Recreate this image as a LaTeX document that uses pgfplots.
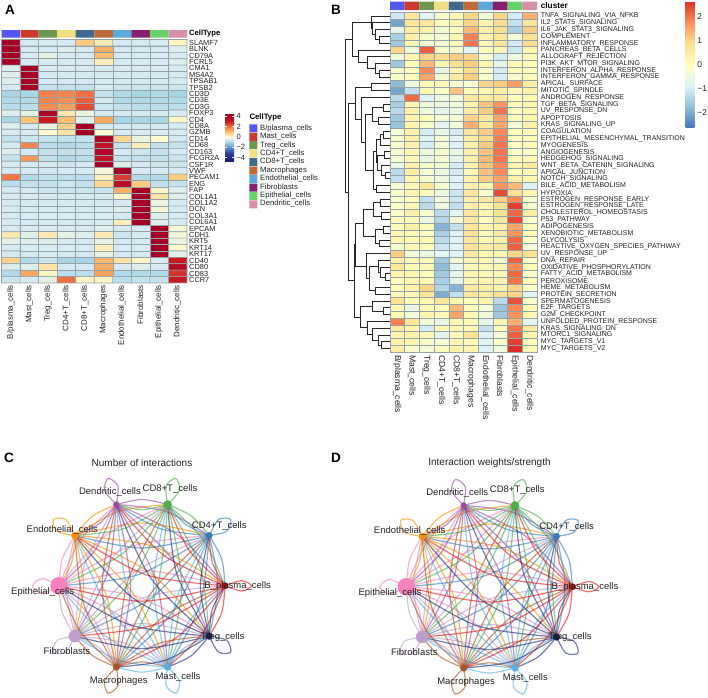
\documentclass[border=0pt]{standalone}
\usepackage{fontspec}
\setmainfont{Liberation Sans}
\usepackage{pgfplots}
\pgfplotsset{compat=1.18}

% annotation and network colours
\definecolor{aBp}{HTML}{5555F0}
\definecolor{aMa}{HTML}{CC3A2E}
\definecolor{aTr}{HTML}{6F9650}
\definecolor{aC4}{HTML}{EFDF80}
\definecolor{aC8}{HTML}{3F6A8E}
\definecolor{aMc}{HTML}{C06A3A}
\definecolor{aEn}{HTML}{5AAADC}
\definecolor{aFi}{HTML}{861F6D}
\definecolor{aEp}{HTML}{66D36A}
\definecolor{aDe}{HTML}{D68FA8}
\definecolor{nBp}{HTML}{E41A1C}
\definecolor{nC4}{HTML}{377EB8}
\definecolor{nC8}{HTML}{4DAF4A}
\definecolor{nDe}{HTML}{984EA3}
\definecolor{nEn}{HTML}{F29403}
\definecolor{nEp}{HTML}{F781BF}
\definecolor{nFi}{HTML}{BC9DCC}
\definecolor{nMc}{HTML}{A65628}
\definecolor{nMa}{HTML}{54B0E4}
\definecolor{nTr}{HTML}{222F75}
\definecolor{cellline}{HTML}{95A3A7}
\definecolor{txt}{HTML}{222222}

\pgfplotsset{
  px/.style={scale only axis, anchor=south west, at={(0pt,0pt)}, width=708pt, height=697pt,
    xmin=0, xmax=708, ymin=0, ymax=697, y dir=reverse, hide axis, clip=false},
  heat/.style={scale only axis, anchor=north west, xmin=-.5, xmax=9.5, y dir=reverse,
    xtick=\empty, ytick=\empty, axis line style={draw=none}, clip=false},
  net/.style={scale only axis, anchor=center, width=166pt, height=171pt,
    xmin=-1, xmax=1, ymin=-1, ymax=1, hide axis, clip=false, unbounded coords=jump},
  ch/.style={smooth, no markers, line width=1.2pt, opacity=.62, color=#1},
  colormap={hmA}{rgb255(0pt)=(28,28,118); rgb255(9pt)=(35,40,140); rgb255(18pt)=(50,70,170);
    rgb255(28pt)=(95,150,200); rgb255(38pt)=(170,215,232); rgb255(43pt)=(214,235,243);
    rgb255(48pt)=(255,250,205); rgb255(58pt)=(253,190,110); rgb255(68pt)=(240,110,65);
    rgb255(78pt)=(200,25,35); rgb255(88pt)=(165,0,38); rgb255(93pt)=(165,0,38)},
  colormap={hmB}{rgb255(0pt)=(69,117,180); rgb255(1pt)=(145,191,219); rgb255(2pt)=(224,243,248);
    rgb255(3pt)=(255,255,191); rgb255(4pt)=(254,224,144); rgb255(5pt)=(252,141,89);
    rgb255(6pt)=(215,48,39)},
}

\newcommand\netlab[3]{\node[text=txt, font=\fontsize{9.5}{11}\selectfont] at (axis cs:#1,#2) {#3};}

% chords from each source: target, bend point; last curve is the self loop
\newcommand\chords{%
\addplot[ch=nEp] coordinates {(-1,0)(-.846,-.275)(-.809,-.588)(nan,nan)(-1,0)(-.569,-.413)(-.309,-.951)(nan,nan)(-1,0)(-.26,-.358)(.309,-.951)(nan,nan)(-1,0)(-.043,-.131)(.809,-.588)(nan,nan)(-1,0)(0,.18)(1,0)(nan,nan)(-1,0)(-.148,.456)(.809,.588)(nan,nan)(-1,0)(-.432,.594)(.309,.951)(nan,nan)(-1,0)(-.74,.538)(-.309,.951)(nan,nan)(-1,0)(-.961,.312)(-.809,.588)(nan,nan)(-1,0)(-1.2,-.085)(-1.32,0)(-1.2,.085)(-1,0)};
\addplot[ch=nFi] coordinates {(-.809,-.588)(-.523,-.72)(-.309,-.951)(nan,nan)(-.809,-.588)(-.217,-.669)(.309,-.951)(nan,nan)(-.809,-.588)(0,-.442)(.809,-.588)(nan,nan)(-.809,-.588)(.043,-.131)(1,0)(nan,nan)(-.809,-.588)(-.106,.146)(.809,.588)(nan,nan)(-.809,-.588)(-.388,.282)(.309,.951)(nan,nan)(-.809,-.588)(-.698,.227)(-.309,.951)(nan,nan)(-.809,-.588)(-.915,0)(-.809,.588)(nan,nan)(-.809,-.588)(-.961,-.312)(-1,0)(nan,nan)(-.809,-.588)(-.921,-.775)(-1.068,-.776)(-1.021,-.637)(-.809,-.588)};
\addplot[ch=nMa] coordinates {(.309,-.951)(.523,-.72)(.809,-.588)(nan,nan)(.309,-.951)(.569,-.413)(1,0)(nan,nan)(.309,-.951)(.42,-.137)(.809,.588)(nan,nan)(.309,-.951)(.138,0)(.309,.951)(nan,nan)(.309,-.951)(-.171,-.056)(-.309,.951)(nan,nan)(.309,-.951)(-.388,-.282)(-.809,.588)(nan,nan)(.309,-.951)(-.432,-.594)(-1,0)(nan,nan)(.309,-.951)(-.283,-.87)(-.809,-.588)(nan,nan)(.309,-.951)(0,-1.01)(-.309,-.951)(nan,nan)(.309,-.951)(.452,-1.115)(.408,-1.255)(.29,-1.167)(.309,-.951)};
\addplot[ch=nEn] coordinates {(-.809,.588)(-.846,.275)(-1,0)(nan,nan)(-.809,.588)(-.703,0)(-.809,-.588)(nan,nan)(-.809,.588)(-.42,-.137)(-.309,-.951)(nan,nan)(-.809,.588)(-.112,-.081)(.309,-.951)(nan,nan)(-.809,.588)(.106,.146)(.809,-.588)(nan,nan)(-.809,.588)(.148,.456)(1,0)(nan,nan)(-.809,.588)(0,.734)(.809,.588)(nan,nan)(-.809,.588)(-.283,.87)(.309,.951)(nan,nan)(-.809,.588)(-.594,.817)(-.309,.951)(nan,nan)(-.809,.588)(-1.021,.637)(-1.068,.776)(-.921,.775)(-.809,.588)};
\addplot[ch=nDe] coordinates {(-.309,.951)(-.523,.72)(-.809,.588)(nan,nan)(-.309,.951)(-.569,.413)(-1,0)(nan,nan)(-.309,.951)(-.42,.137)(-.809,-.588)(nan,nan)(-.309,.951)(-.138,0)(-.309,-.951)(nan,nan)(-.309,.951)(.171,.056)(.309,-.951)(nan,nan)(-.309,.951)(.388,.282)(.809,-.588)(nan,nan)(-.309,.951)(.432,.594)(1,0)(nan,nan)(-.309,.951)(.283,.87)(.809,.588)(nan,nan)(-.309,.951)(0,1.01)(.309,.951)(nan,nan)(-.309,.951)(-.452,1.115)(-.408,1.255)(-.29,1.167)(-.309,.951)};
\addplot[ch=nC8] coordinates {(.309,.951)(0,.89)(-.309,.951)(nan,nan)(.309,.951)(-.217,.669)(-.809,.588)(nan,nan)(.309,.951)(-.26,.358)(-1,0)(nan,nan)(.309,.951)(-.112,.081)(-.809,-.588)(nan,nan)(.309,.951)(.171,-.056)(-.309,-.951)(nan,nan)(.309,.951)(.48,0)(.309,-.951)(nan,nan)(.309,.951)(.698,.227)(.809,-.588)(nan,nan)(.309,.951)(.74,.538)(1,0)(nan,nan)(.309,.951)(.594,.817)(.809,.588)(nan,nan)(.309,.951)(.29,1.167)(.408,1.255)(.452,1.115)(.309,.951)};
\addplot[ch=nC4] coordinates {(.809,.588)(.523,.72)(.309,.951)(nan,nan)(.809,.588)(.217,.669)(-.309,.951)(nan,nan)(.809,.588)(0,.442)(-.809,.588)(nan,nan)(.809,.588)(-.043,.131)(-1,0)(nan,nan)(.809,.588)(.106,-.146)(-.809,-.588)(nan,nan)(.809,.588)(.388,-.282)(-.309,-.951)(nan,nan)(.809,.588)(.698,-.227)(.309,-.951)(nan,nan)(.809,.588)(.915,0)(.809,-.588)(nan,nan)(.809,.588)(.961,.312)(1,0)(nan,nan)(.809,.588)(.921,.775)(1.068,.776)(1.021,.637)(.809,.588)};
\addplot[ch=nMc] coordinates {(-.309,-.951)(0,-.89)(.309,-.951)(nan,nan)(-.309,-.951)(.217,-.669)(.809,-.588)(nan,nan)(-.309,-.951)(.26,-.358)(1,0)(nan,nan)(-.309,-.951)(.112,-.081)(.809,.588)(nan,nan)(-.309,-.951)(-.171,.056)(.309,.951)(nan,nan)(-.309,-.951)(-.48,0)(-.309,.951)(nan,nan)(-.309,-.951)(-.698,-.227)(-.809,.588)(nan,nan)(-.309,-.951)(-.74,-.538)(-1,0)(nan,nan)(-.309,-.951)(-.594,-.817)(-.809,-.588)(nan,nan)(-.309,-.951)(-.29,-1.167)(-.408,-1.255)(-.452,-1.115)(-.309,-.951)};
\addplot[ch=nBp] coordinates {(1,0)(.846,.275)(.809,.588)(nan,nan)(1,0)(.569,.413)(.309,.951)(nan,nan)(1,0)(.26,.358)(-.309,.951)(nan,nan)(1,0)(.043,.131)(-.809,.588)(nan,nan)(1,0)(0,-.18)(-1,0)(nan,nan)(1,0)(.148,-.456)(-.809,-.588)(nan,nan)(1,0)(.432,-.594)(-.309,-.951)(nan,nan)(1,0)(.74,-.538)(.309,-.951)(nan,nan)(1,0)(.961,-.312)(.809,-.588)(nan,nan)(1,0)(1.2,.06)(1.32,0)(1.2,-.06)(1,0)};
\addplot[ch=nTr] coordinates {(.809,-.588)(.846,-.275)(1,0)(nan,nan)(.809,-.588)(.703,0)(.809,.588)(nan,nan)(.809,-.588)(.42,.137)(.309,.951)(nan,nan)(.809,-.588)(.112,.081)(-.309,.951)(nan,nan)(.809,-.588)(-.106,-.146)(-.809,.588)(nan,nan)(.809,-.588)(-.148,-.456)(-1,0)(nan,nan)(.809,-.588)(0,-.734)(-.809,-.588)(nan,nan)(.809,-.588)(.283,-.87)(-.309,-.951)(nan,nan)(.809,-.588)(.594,-.817)(.309,-.951)(nan,nan)(.809,-.588)(1.021,-.637)(1.068,-.776)(.921,-.775)(.809,-.588)};
% nodes
\addplot[only marks, mark=*, mark size=3.2, color=nBp!75!black] coordinates {(1,0)};
\addplot[only marks, mark=*, mark size=3.2, color=nC4] coordinates {(.809,.588)};
\addplot[only marks, mark=*, mark size=4, color=nC8] coordinates {(.309,.951)};
\addplot[only marks, mark=*, mark size=2.9, color=nDe] coordinates {(-.309,.951)};
\addplot[only marks, mark=*, mark size=3.4, color=nEn] coordinates {(-.809,.588)};
\addplot[only marks, mark=*, mark size=8.5, color=nEp] coordinates {(-1,0)};
\addplot[only marks, mark=*, mark size=6, color=nFi] coordinates {(-.809,-.588)};
\addplot[only marks, mark=*, mark size=3.3, color=nMc] coordinates {(-.309,-.951)};
\addplot[only marks, mark=*, mark size=3.3, color=nMa] coordinates {(.309,-.951)};
\addplot[only marks, mark=*, mark size=3.4, color=nTr!70!black] coordinates {(.809,-.588)};
}
% labels go in their own axis so that they lie over marks and chords
\newcommand\netlabels{%
\addplot[draw=none, forget plot] coordinates {(0,0)};
\netlab{1.153}{0}{B\_plasma\_cells}
\netlab{.931}{.699}{CD4+T\_cells}
\netlab{.337}{1.132}{CD8+T\_cells}
\netlab{-.386}{1.097}{Dendritic\_cells}
\netlab{-.96}{.653}{Endothelial\_cells}
\netlab{-1.197}{-.069}{Epithelial\_cells}
\netlab{-.904}{-.763}{Fibroblasts}
\netlab{-.28}{-1.114}{Macrophages}
\netlab{.434}{-1.063}{Mast\_cells}
\netlab{.972}{-.594}{Treg\_cells}
}

\begin{document}
\begin{tikzpicture}[x=1pt, y=1pt]
\useasboundingbox (0,0) rectangle (708,697);

% panel A heatmap, columns read row by row
\begin{axis}[heat, at={(1.5pt,657.5pt)}, width=185.5pt, height=243.5pt, ymin=-.5, ymax=37.5,
  colormap name=hmA, point meta min=-4.77, point meta max=4.5,
  colorbar, colorbar style={at={(1.2049,.6969)}, anchor=north west, scale only axis,
    width=9pt, height=48.4pt, ytick={-4,-2,0,2,4}, yticklabels={−4,−2,0,2,4}, yticklabel pos=right,
    tick align=inside, ytick pos=both, major tick length=2pt, tick style={white, line width=.5pt},
    axis line style={draw=none}, yticklabel style={font=\fontsize{7.6}{8}\selectfont, text=txt, xshift=-1pt}}]
\addplot[matrix plot, mesh/cols=10, draw=cellline, line width=.6pt, point meta=\thisrowno{0}]
 table[row sep=\\, header=false, x expr={mod(\coordindex,10)}, y expr={floor((\coordindex+.5)/10)}] {
 4\\-.5\\-.5\\-.5\\.8\\.3\\-.5\\-.5\\-.5\\.1\\
 4\\-.5\\-.5\\-.4\\-.5\\1.2\\-.5\\-.5\\-.5\\-.4\\
 4\\-.5\\-.3\\-.5\\-.5\\1\\-.5\\-.5\\-.5\\-.5\\
 4\\-.5\\-.5\\-.5\\-.5\\.2\\-.5\\-.5\\-.5\\-.4\\
 -.4\\4\\-.5\\-.5\\-.5\\-.5\\-.5\\-.5\\-.5\\-.5\\
 -.4\\4\\-.5\\-.5\\-.5\\-.5\\-.5\\-.5\\-.5\\-.5\\
 -.4\\4\\-.5\\-.5\\-.5\\-.5\\-.5\\-.5\\-.5\\-.5\\
 -.5\\4\\-.7\\-.7\\-.7\\-.5\\-.6\\-.6\\-.6\\-.6\\
 -1\\-1\\1.8\\1.7\\2\\-.7\\-.9\\-1\\-.9\\-1\\
 -.9\\-.9\\1.8\\1.6\\2.2\\-.5\\-.9\\-.9\\-.9\\-.9\\
 -.8\\-.8\\1.6\\1.4\\2.4\\-.6\\-.7\\-.8\\-.8\\-.8\\
 -.4\\-.3\\3.8\\.3\\-.2\\-.5\\-.5\\-.5\\-.5\\-.5\\
 -1\\.9\\3\\1\\-.4\\1.3\\-1\\-1\\-1\\.1\\
 -.4\\-.5\\-.2\\.7\\4\\-.5\\-.5\\-.5\\-.5\\-.5\\
 -.5\\-.5\\0\\.4\\4\\0\\-.5\\-.5\\-.5\\-.5\\
 -.7\\-.6\\-.7\\-.7\\-.7\\3.8\\.6\\-.2\\0\\-.5\\
 -.5\\1.7\\-.8\\-.9\\-.8\\3.2\\-.7\\.2\\-.7\\-.7\\
 -.4\\-.5\\-.7\\-.7\\-.7\\3.7\\-.5\\-.6\\-.7\\-.5\\
 -.7\\1.5\\-.7\\-.9\\-.8\\3.2\\-.7\\-.7\\-.7\\-.6\\
 -.5\\-.5\\-.5\\-.6\\-.5\\3.9\\-.4\\-.5\\-.6\\-.6\\
 -.5\\-.5\\-.6\\-.5\\-.5\\-.1\\4\\-.5\\-.5\\-.5\\
 1.9\\-.9\\-.7\\-.8\\-.8\\.2\\2.6\\-.9\\-.9\\.8\\
 -.8\\-.7\\-.7\\-.6\\-.7\\.6\\3.4\\.8\\-.7\\-.7\\
 -.5\\-.5\\-.6\\-.6\\-.6\\-.6\\1.2\\3.9\\.1\\-.4\\
 -.5\\-.5\\-.5\\-.5\\-.5\\-.5\\0\\4\\.4\\-.4\\
 -.5\\-.5\\-.5\\-.5\\-.5\\-.5\\-.5\\4\\-.2\\-.5\\
 -.5\\-.5\\-.5\\-.5\\-.5\\-.5\\-.4\\4\\-.1\\-.5\\
 -.5\\-.5\\-.5\\-.5\\-.5\\-.5\\-.5\\4\\-.4\\-.5\\
 -.5\\-.5\\-.5\\-.5\\-.5\\-.5\\.2\\4\\-.4\\-.5\\
 -.5\\-.5\\-.5\\-.5\\-.5\\-.4\\-.5\\-.5\\4\\-.1\\
 .3\\-.4\\.3\\-.3\\-.4\\.3\\-.6\\-.5\\4\\-.1\\
 -.3\\-.4\\-.4\\-.5\\-.5\\-.3\\-.5\\-.5\\4\\-.2\\
 -.5\\-.5\\-.5\\-.5\\-.5\\.2\\-.5\\-.5\\4\\0\\
 -.5\\-.5\\-.5\\-.5\\-.5\\-.3\\-.5\\-.5\\4\\-.3\\
 .7\\-.9\\-.6\\-1\\-1\\1.1\\.4\\.1\\-.5\\3\\
 -.4\\-.4\\.4\\-.5\\-.5\\1.2\\-.5\\-.4\\-.5\\3.6\\
 -.9\\1.3\\.1\\-.8\\-.8\\1.4\\-.9\\-.9\\-.9\\2.7\\
 -.6\\-.5\\-.3\\2\\.1\\.1\\-.8\\-.7\\-.7\\3\\
 };
\end{axis}

% panel B heatmap
\begin{axis}[heat, at={(390pt,684.3pt)}, width=147pt, height=339.3pt, ymin=-.5, ymax=49.5,
  colormap name=hmB, point meta min=-2.65, point meta max=2.65,
  colorbar, colorbar style={at={(2.0116,1.0345)}, anchor=north west, scale only axis,
    width=8.6pt, height=127pt, ytick={-2,-1,0,1,2}, yticklabels={−2,−1,0,1,2}, yticklabel pos=right,
    tick style={draw=none}, axis line style={draw=none},
    yticklabel style={font=\fontsize{8.4}{9}\selectfont, text=txt, xshift=-.5pt}}]
\addplot[matrix plot, mesh/cols=10, draw=cellline, line width=.6pt, point meta=\thisrowno{0}]
 table[row sep=\\, header=false, x expr={mod(\coordindex,10)}, y expr={floor((\coordindex+.5)/10)}] {
 -1.1\\.7\\-.8\\-.2\\.2\\1\\-.3\\1\\-1\\1.4\\
 -2.1\\.7\\.7\\.1\\.3\\1\\.3\\.9\\-1.2\\.7\\
 -.7\\.5\\.4\\-.3\\.1\\1.3\\.4\\.9\\-1.5\\1.1\\
 -1.5\\.4\\-.2\\-.3\\.2\\1.9\\.3\\.7\\-.4\\.8\\
 -1.6\\.2\\-.3\\-.3\\.1\\2\\.2\\.7\\-1\\.9\\
 1\\-.5\\2.2\\-.2\\-.2\\-.8\\.1\\.2\\-1.1\\.3\\
 -.4\\.3\\1\\.9\\1.1\\1\\-.3\\-1\\-.5\\.2\\
 -1.6\\.1\\1.3\\.2\\.8\\1.1\\.3\\-.7\\.2\\.1\\
 -.2\\.1\\1.8\\-.6\\.3\\.9\\-.2\\-1\\.1\\.1\\
 -.1\\.1\\1.5\\-.3\\.5\\1.1\\-.2\\-1\\-.2\\.1\\
 -1.8\\-.5\\.2\\.2\\-.2\\-.3\\1\\1.1\\1.6\\.5\\
 -2.1\\-1.2\\.2\\-.1\\1.2\\.1\\.2\\.5\\.2\\.4\\
 -1.3\\2.1\\-.9\\-.5\\-.4\\.6\\.5\\.6\\.1\\.2\\
 -1.5\\.3\\-.5\\-.5\\-.4\\.3\\1.2\\1.7\\.1\\.3\\
 -1.3\\.4\\-.5\\-.7\\-.5\\.5\\1.1\\2\\.1\\.3\\
 -1.6\\.3\\.1\\-.3\\-.3\\1\\.6\\1.5\\.1\\.3\\
 -1.7\\.3\\-.2\\-.7\\-.4\\1.4\\.6\\1.5\\-.3\\.4\\
 -.3\\.4\\-1\\-.6\\-1\\.7\\1.1\\1.8\\.1\\.1\\
 -.2\\.5\\-.9\\-.3\\-.8\\.5\\.9\\1.9\\0\\.1\\
 -.2\\.4\\-1\\-.3\\-.9\\.4\\1.1\\2\\0\\.1\\
 -.3\\.3\\-.5\\-.2\\-.6\\.4\\1.2\\2\\-.1\\-.1\\
 -.3\\.2\\-.6\\-.3\\-.7\\.4\\1.3\\2\\.1\\.2\\
 -.6\\.4\\-.2\\-.3\\-1\\.3\\1.2\\1.8\\.3\\.6\\
 -1.3\\.5\\-.3\\-.5\\-1\\.2\\1.2\\1.8\\.1\\.2\\
 -1.2\\.2\\-.3\\-.5\\-.9\\.4\\1.1\\1.5\\.4\\.3\\
 -.3\\.2\\.7\\-.2\\-.9\\.4\\.3\\1.7\\1.3\\-.9\\
 -.1\\.3\\.1\\-.5\\-1.1\\.7\\-.2\\2.4\\.8\\.2\\
 -.2\\.1\\-1.2\\-.4\\-1.1\\.4\\.6\\1.1\\1.8\\-.2\\
 -.1\\.2\\-1.3\\-.5\\-1.2\\.4\\.2\\.8\\2.5\\-.2\\
 -.1\\.5\\-.3\\-1.3\\-.8\\.7\\.3\\.8\\2.1\\.5\\
 .1\\.2\\-.5\\-1.4\\-.3\\.6\\.1\\.7\\2.4\\-.1\\
 .1\\.5\\.1\\-1.9\\-1.2\\.7\\.3\\.4\\1.5\\.1\\
 .2\\.2\\-.1\\-1.5\\-.9\\.8\\.1\\.6\\1.7\\.1\\
 .3\\.2\\.2\\-1.3\\-.9\\.7\\.2\\.4\\2.1\\-.1\\
 -.2\\.2\\.1\\-1.1\\-.9\\.8\\.5\\.6\\2.2\\-.4\\
 1.1\\-.4\\-.5\\-.8\\-.9\\.5\\.2\\.3\\1\\.9\\
 .4\\.2\\.1\\-1.6\\-.3\\.3\\.2\\-.3\\2.2\\-.1\\
 .7\\.1\\.2\\-1.8\\-.8\\.2\\.2\\.2\\1.8\\.1\\
 .3\\.3\\.1\\-1.6\\-.7\\.3\\.2\\.2\\2.1\\-.1\\
 .1\\.3\\.2\\-1.5\\-.7\\.3\\.3\\.3\\2\\.1\\
 .1\\.4\\1\\-1.4\\-1.9\\.6\\.5\\.3\\1\\-.1\\
 .2\\.2\\.7\\-2\\-1.2\\.7\\.5\\.8\\1\\-.8\\
 .8\\.1\\.2\\.7\\.2\\.1\\.3\\-1.3\\2.3\\-.1\\
 .2\\-.6\\.2\\.1\\1.3\\.1\\-.4\\-1.7\\1.8\\.2\\
 .2\\-.4\\.3\\.1\\1.5\\.2\\-.4\\-1.6\\1.7\\.2\\
 1.9\\.7\\-.4\\-.6\\.2\\.2\\-.7\\.3\\1.4\\-.8\\
 .6\\.3\\-1\\.2\\.2\\.2\\-1.2\\.1\\2\\.6\\
 .3\\.4\\.2\\-.7\\.1\\.8\\-.9\\-.3\\2.2\\.3\\
 .4\\.3\\-.2\\-.3\\.3\\.2\\-.8\\-.1\\2.5\\.1\\
 .5\\-.2\\-.3\\.1\\.4\\.3\\-.9\\-.4\\2.65\\.2\\
 };
\end{axis}

% everything placed in picture pixels: letters, annotation bars, row labels, dendrogram, legend
\begin{axis}[px, unbounded coords=jump]
% annotation bars A, B and legend swatch of each cell type
\addplot[draw=none, fill=aBp] coordinates {(1.5,30)(20,30)(20,37.5)(1.5,37.5)(nan,nan)(390,1.5)(404.7,1.5)(404.7,10)(390,10)(nan,nan)(249.3,124.3)(257.3,124.3)(257.3,132.3)(249.3,132.3)};
\addplot[draw=none, fill=aMa] coordinates {(20.5,30)(38.6,30)(38.6,37.5)(20.5,37.5)(nan,nan)(404.7,1.5)(419.4,1.5)(419.4,10)(404.7,10)(nan,nan)(249.3,132.8)(257.3,132.8)(257.3,140.8)(249.3,140.8)};
\addplot[draw=none, fill=aTr] coordinates {(38.6,30)(57.2,30)(57.2,37.5)(38.6,37.5)(nan,nan)(419.4,1.5)(434.1,1.5)(434.1,10)(419.4,10)(nan,nan)(249.3,141.2)(257.3,141.2)(257.3,149.2)(249.3,149.2)};
\addplot[draw=none, fill=aC4] coordinates {(57.2,30)(75.7,30)(75.7,37.5)(57.2,37.5)(nan,nan)(434.1,1.5)(448.8,1.5)(448.8,10)(434.1,10)(nan,nan)(249.3,149.7)(257.3,149.7)(257.3,157.7)(249.3,157.7)};
\addplot[draw=none, fill=aC8] coordinates {(75.7,30)(94.3,30)(94.3,37.5)(75.7,37.5)(nan,nan)(448.8,1.5)(463.5,1.5)(463.5,10)(448.8,10)(nan,nan)(249.3,158.1)(257.3,158.1)(257.3,166.1)(249.3,166.1)};
\addplot[draw=none, fill=aMc] coordinates {(94.3,30)(112.8,30)(112.8,37.5)(94.3,37.5)(nan,nan)(463.5,1.5)(478.2,1.5)(478.2,10)(463.5,10)(nan,nan)(249.3,166.6)(257.3,166.6)(257.3,174.6)(249.3,174.6)};
\addplot[draw=none, fill=aEn] coordinates {(112.8,30)(131.4,30)(131.4,37.5)(112.8,37.5)(nan,nan)(478.2,1.5)(492.9,1.5)(492.9,10)(478.2,10)(nan,nan)(249.3,175)(257.3,175)(257.3,183)(249.3,183)};
\addplot[draw=none, fill=aFi] coordinates {(131.4,30)(149.9,30)(149.9,37.5)(131.4,37.5)(nan,nan)(492.9,1.5)(507.6,1.5)(507.6,10)(492.9,10)(nan,nan)(249.3,183.5)(257.3,183.5)(257.3,191.5)(249.3,191.5)};
\addplot[draw=none, fill=aEp] coordinates {(149.9,30)(168.5,30)(168.5,37.5)(149.9,37.5)(nan,nan)(507.6,1.5)(522.3,1.5)(522.3,10)(507.6,10)(nan,nan)(249.3,191.9)(257.3,191.9)(257.3,199.9)(249.3,199.9)};
\addplot[draw=none, fill=aDe] coordinates {(168.5,30)(187,30)(187,37.5)(168.5,37.5)(nan,nan)(522.3,1.5)(537,1.5)(537,10)(522.3,10)(nan,nan)(249.3,200.4)(257.3,200.4)(257.3,208.4)(249.3,208.4)};

% dendrogram of panel B
\addplot[no markers, line width=.9pt, color=black!85] coordinates {
(390,36.4)(379,36.4)(379,43.2)(390,43.2)(nan,nan)(390,29.7)(375,29.7)(375,39.8)(379,39.8)(nan,nan)
(390,22.9)(372.5,22.9)(372.5,34.75)(375,34.75)(nan,nan)(390,16.1)(371,16.1)(371,28.8)(372.5,28.8)(nan,nan)
(390,70.3)(379,70.3)(379,77.1)(390,77.1)(nan,nan)(390,63.6)(375,63.6)(375,73.7)(379,73.7)(nan,nan)
(390,56.8)(367.3,56.8)(367.3,68.65)(375,68.65)(nan,nan)(390,50)(358.3,50)(358.3,62.7)(367.3,62.7)(nan,nan)
(371,22.5)(352,22.5)(352,56.35)(358.3,56.35)(nan,nan)(390,83.9)(371,83.9)(371,90.7)(390,90.7)(nan,nan)
(390,104.3)(383.3,104.3)(383.3,111)(390,111)(nan,nan)(390,117.8)(378,117.8)(378,124.6)(390,124.6)(nan,nan)
(383.3,107.65)(372.7,107.65)(372.7,121.2)(378,121.2)(nan,nan)(390,131.4)(383.5,131.4)(383.5,138.2)(390,138.2)(nan,nan)
(383.5,134.8)(380,134.8)(380,145)(390,145)(nan,nan)(390,151.8)(384,151.8)(384,158.5)(390,158.5)(nan,nan)
(390,172.1)(385.5,172.1)(385.5,178.9)(390,178.9)(nan,nan)(390,165.3)(381,165.3)(381,175.5)(385.5,175.5)(nan,nan)
(384,155.15)(377.7,155.15)(377.7,170.4)(381,170.4)(nan,nan)(380,139.9)(376,139.9)(376,162.8)(377.7,162.8)(nan,nan)
(390,185.7)(376,185.7)(376,192.5)(390,192.5)(nan,nan)(376,151.35)(373,151.35)(373,189.1)(376,189.1)(nan,nan)
(372.7,114.4)(365,114.4)(365,170.2)(373,170.2)(nan,nan)(390,97.5)(361,97.5)(361,142.3)(365,142.3)(nan,nan)
(371,87.3)(355.7,87.3)(355.7,119.9)(361,119.9)(nan,nan)(390,199.3)(380.7,199.3)(380.7,206)(390,206)(nan,nan)
(390,212.8)(381.7,212.8)(381.7,219.6)(390,219.6)(nan,nan)(380.7,202.65)(373.3,202.65)(373.3,216.2)(381.7,216.2)(nan,nan)
(390,226.4)(383.3,226.4)(383.3,233.2)(390,233.2)(nan,nan)(390,240)(379.3,240)(379.3,246.8)(390,246.8)(nan,nan)
(383.3,229.8)(375,229.8)(375,243.4)(379.3,243.4)(nan,nan)(373.3,209.4)(363.3,209.4)(363.3,236.6)(375,236.6)(nan,nan)
(390,273.9)(385,273.9)(385,280.7)(390,280.7)(nan,nan)(390,267.1)(380,267.1)(380,277.3)(385,277.3)(nan,nan)
(390,260.3)(378.3,260.3)(378.3,272.2)(380,272.2)(nan,nan)(390,287.5)(375,287.5)(375,294.3)(390,294.3)(nan,nan)
(378.3,266.25)(369.3,266.25)(369.3,290.9)(375,290.9)(nan,nan)(390,253.5)(366,253.5)(366,278.6)(369.3,278.6)(nan,nan)
(363.3,223)(355,223)(355,266)(366,266)(nan,nan)(390,307.8)(383.3,307.8)(383.3,314.6)(390,314.6)(nan,nan)
(390,301)(372.3,301)(372.3,311.2)(383.3,311.2)(nan,nan)(390,341.8)(381.7,341.8)(381.7,348.5)(390,348.5)(nan,nan)
(390,335)(378.3,335)(378.3,345.15)(381.7,345.15)(nan,nan)(390,328.2)(372.3,328.2)(372.3,340.1)(378.3,340.1)(nan,nan)
(390,321.4)(367.7,321.4)(367.7,334.15)(372.3,334.15)(nan,nan)(372.3,306.1)(360.7,306.1)(360.7,327.8)(367.7,327.8)(nan,nan)
(355,244.5)(354,244.5)(354,316.95)(360.7,316.95)(nan,nan)(355.7,103.6)(348,103.6)(348,280.7)(354,280.7)(nan,nan)
(352,39.4)(345,39.4)(345,192.15)(348,192.15)};

% panel letters and titles
\node[font=\fontsize{13.5}{14}\bfseries] at (axis cs:10,10) {A};
\node[font=\fontsize{13.5}{14}\bfseries] at (axis cs:336,10) {B};
\node[font=\fontsize{13.5}{14}\bfseries] at (axis cs:9,457.5) {C};
\node[font=\fontsize{13.5}{14}\bfseries] at (axis cs:336,457.5) {D};
\node[text=txt, font=\fontsize{10}{11}\selectfont] at (axis cs:142,462.5) {Number of interactions};
\node[text=txt, font=\fontsize{10}{11}\selectfont] at (axis cs:489.5,463) {Interaction weights/strength};
\node[anchor=west, inner sep=0pt, font=\fontsize{7.6}{8}\bfseries] at (axis cs:189,34) {CellType};
\node[anchor=west, inner sep=0pt, font=\fontsize{8.2}{9}\bfseries] at (axis cs:540.7,6) {cluster};
\node[anchor=west, inner sep=0pt, font=\fontsize{7.8}{8}\bfseries] at (axis cs:249.3,117) {CellType};

% legend texts of panel A
\foreach \lab [count=\i from 0] in {B/plasma\_cells,Mast\_cells,Treg\_cells,CD4+T\_cells,CD8+T\_cells,Macrophages,Endothelial\_cells,Fibroblasts,Epithelial\_cells,Dendritic\_cells}{
  \edef\temp{\noexpand\node[anchor=west, inner sep=0pt, text=txt, font=\noexpand\fontsize{7.7}{8}\noexpand\selectfont] at (axis cs:260,\the\numexpr 1283+84*\i\relax e-1) {\unexpanded\expandafter{\lab}};}
  \temp
}

% row labels of panel A
\foreach \lab [count=\i from 0] in {SLAMF7,BLNK,CD79A,FCRL5,CMA1,MS4A2,TPSAB1,TPSB2,CD3D,CD3E,CD3G,FOXP3,CD4,CD8A,GZMB,CD14,CD68,CD163,FCGR2A,CSF1R,VWF,PECAM1,ENG,FAP,COL1A1,COL1A2,DCN,COL3A1,COL6A1,EPCAM,CDH1,KRT5,KRT14,KRT17,CD40,CD80,CD83,CCR7}{
  \edef\temp{\noexpand\node[anchor=west, inner sep=0pt, text=txt, font=\noexpand\fontsize{7.4}{8}\noexpand\selectfont] at (axis cs:189,\the\numexpr 4270+641*\i\relax e-2) {\lab};}
  \temp
}

% row labels of panel B
\foreach \lab [count=\i from 0] in {TNFA\_SIGNALING\_VIA\_NFKB,IL2\_STAT5\_SIGNALING,IL6\_JAK\_STAT3\_SIGNALING,COMPLEMENT,INFLAMMATORY\_RESPONSE,PANCREAS\_BETA\_CELLS,ALLOGRAFT\_REJECTION,PI3K\_AKT\_MTOR\_SIGNALING,INTERFERON\_ALPHA\_RESPONSE,INTERFERON\_GAMMA\_RESPONSE,APICAL\_SURFACE,MITOTIC\_SPINDLE,ANDROGEN\_RESPONSE,TGF\_BETA\_SIGNALING,UV\_RESPONSE\_DN,APOPTOSIS,KRAS\_SIGNALING\_UP,COAGULATION,EPITHELIAL\_MESENCHYMAL\_TRANSITION,MYOGENESIS,ANGIOGENESIS,HEDGEHOG\_SIGNALING,WNT\_BETA\_CATENIN\_SIGNALING,APICAL\_JUNCTION,NOTCH\_SIGNALING,BILE\_ACID\_METABOLISM,HYPOXIA,ESTROGEN\_RESPONSE\_EARLY,ESTROGEN\_RESPONSE\_LATE,CHOLESTEROL\_HOMEOSTASIS,P53\_PATHWAY,ADIPOGENESIS,XENOBIOTIC\_METABOLISM,GLYCOLYSIS,REACTIVE\_OXYGEN\_SPECIES\_PATHWAY,UV\_RESPONSE\_UP,DNA\_REPAIR,OXIDATIVE\_PHOSPHORYLATION,FATTY\_ACID\_METABOLISM,PEROXISOME,HEME\_METABOLISM,PROTEIN\_SECRETION,SPERMATOGENESIS,E2F\_TARGETS,G2M\_CHECKPOINT,UNFOLDED\_PROTEIN\_RESPONSE,KRAS\_SIGNALING\_DN,MTORC1\_SIGNALING,MYC\_TARGETS\_V1,MYC\_TARGETS\_V2}{
  \edef\temp{\noexpand\node[anchor=west, inner sep=0pt, text=txt, font=\noexpand\fontsize{7}{8}\noexpand\selectfont] at (axis cs:540.7,\the\numexpr 1609+679*\i\relax e-2) {\unexpanded\expandafter{\lab}};}
  \temp
}

% column labels of both heatmaps
\foreach \lab [count=\i from 0] in {B/plasma\_cells,Mast\_cells,Treg\_cells,CD4+T\_cells,CD8+T\_cells,Macrophages,Endothelial\_cells,Fibroblasts,Epithelial\_cells,Dendritic\_cells}{
  \edef\temp{\noexpand\node[rotate=90, anchor=east, inner sep=0pt, text=txt, font=\noexpand\fontsize{8}{9}\noexpand\selectfont] at (axis cs:\the\numexpr 107+185*\i\relax e-1,285) {\unexpanded\expandafter{\lab}};
  \noexpand\node[rotate=-90, anchor=west, inner sep=0pt, text=txt, font=\noexpand\fontsize{8.6}{9}\noexpand\selectfont] at (axis cs:\the\numexpr 3973+147*\i\relax e-1,355) {\unexpanded\expandafter{\lab}};}
  \temp
}
\end{axis}

% panels C and D
\begin{axis}[net, at={(142pt,111.2pt)}]
\chords
\end{axis}
\begin{axis}[net, at={(489.3pt,110.3pt)}]
\chords
\end{axis}
\begin{axis}[net, at={(142pt,111.2pt)}]
\netlabels
\end{axis}
\begin{axis}[net, at={(489.3pt,110.3pt)}]
\netlabels
\end{axis}
\end{tikzpicture}
\end{document}
